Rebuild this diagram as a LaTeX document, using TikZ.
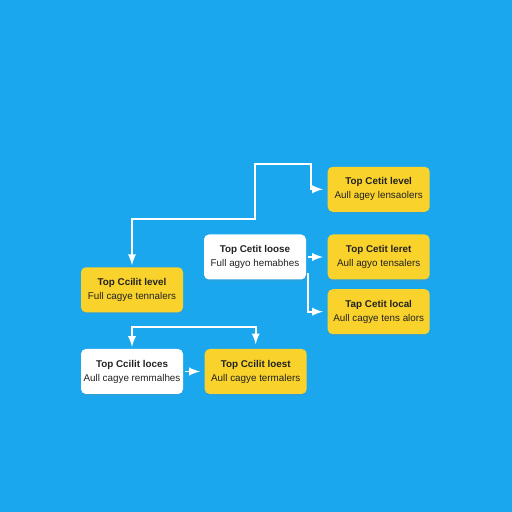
\documentclass[tikz,border=0pt]{standalone}
\usepackage{fontspec}
\setmainfont{Liberation Sans}
\usepackage{tikz}
\usetikzlibrary{arrows, positioning, shadows}
\usepackage{xcolor}

\definecolor{skyback}{HTML}{1BA7EE}
\definecolor{boxyellow}{HTML}{F9D22C}
\definecolor{inkdark}{HTML}{222222}

\begin{document}
\begin{tikzpicture}[
        node distance=0.42cm,
        font=\fontsize{5.6}{7}\selectfont,
        % Styles
        card/.style={
            rectangle,
            rounded corners=2.8pt,
            text=inkdark,
            minimum width=2.04cm,
            minimum height=0.9cm,
            align=center,
            inner sep=1pt,
            drop shadow={opacity=0.15, shadow xshift=0pt, shadow yshift=-1pt}
          },
        yellowcard/.style={card, fill=boxyellow},
        whitecard/.style={card, fill=white},
        link/.style={
            draw=white,
            line width=1.1pt,
            >=latex,
            shorten <=1pt,
            shorten >=2.5pt
          }
      ]
      % Background
      \fill[skyback] (0,0) rectangle (10.24,10.24);
      \useasboundingbox (0,0) rectangle (10.24,10.24);

      % Nodes
      % Middle white node and its right column
      \node[whitecard] (middle) at (5.10,5.10) {\textbf{Top Cetit loose}\\[1pt] Full agyo hemabhes};
      \node[yellowcard, right=of middle] (rightmid) {\textbf{Top Cetit leret}\\[1pt] Aull agyo tensalers};
      \node[yellowcard, above=0.44cm of rightmid] (righttop) {\textbf{Top Cetit level}\\[1pt] Aull agey lensaolers};
      \node[yellowcard, below=0.18cm of rightmid] (rightlow) {\textbf{Tap Cetit local}\\[1pt] Aull cagye tens alors};

      % Left column
      \node[whitecard] (lowleft) at (2.64,2.81) {\textbf{Top Ccilit loces}\\[1pt] Aull cagye remmalhes};
      \node[yellowcard, right=of lowleft] (lowmid) {\textbf{Top Ccilit loest}\\[1pt] Aull cagye termalers};
      \node[yellowcard, above=0.72cm of lowleft] (upleft) {\textbf{Top Ccilit level}\\[1pt] Full cagye tennalers};

      % Bends of the long connector
      \coordinate (bendA) at (5.10,5.86);
      \coordinate (bendB) at (5.10,6.96);
      \coordinate (bendC) at (6.22,6.96);

      % Arrows
      \draw[link, <->] (upleft.north) |- (bendA) -- (bendB) -- (bendC) |- (righttop.west);
      \draw[link, ->] (middle.east) -- (rightmid.west);
      \draw[link, ->, shorten <=0pt] ([xshift=1pt, yshift=4pt]middle.south east) |- (rightlow.west);
      \draw[link, ->] (lowleft.east) -- (lowmid.west);
      \draw[link, <->] (lowleft.north) -- ++(0,0.44) -| (lowmid.north);

    \end{tikzpicture}
\end{document}
